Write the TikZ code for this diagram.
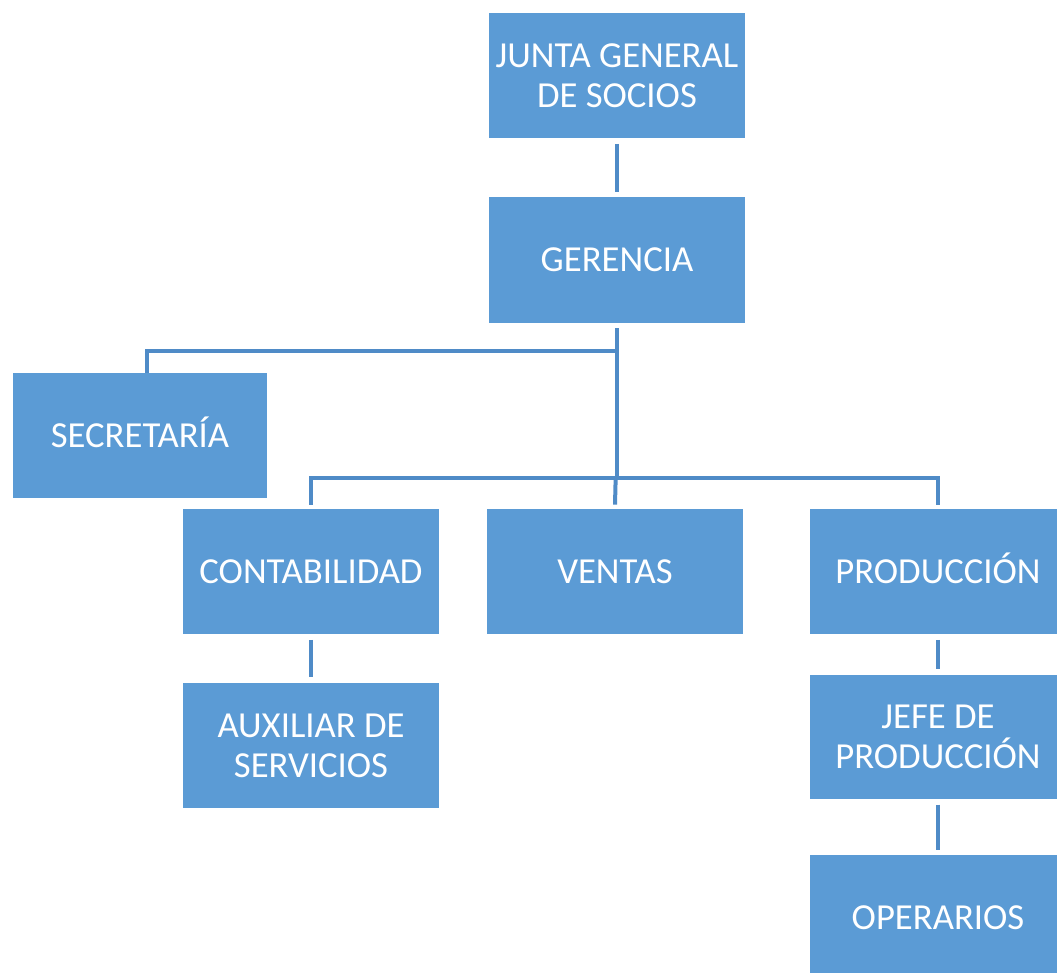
\documentclass[tikz,border=0pt]{standalone}
\usepackage{fontspec}
\setmainfont{Carlito}
\definecolor{boxblue}{HTML}{5B9BD5}
\definecolor{lineblue}{HTML}{4F8BC7}
\begin{document}
\begin{tikzpicture}[x=0.75pt,y=-0.75pt,
  orgbox/.style={rectangle, fill=boxblue, draw=none, minimum width=192pt, minimum height=94pt,
    inner sep=0pt, text=white, align=center, font=\fontsize{27.5pt}{30pt}\selectfont},
  oneline/.style={text height=17.7pt, text depth=0pt},
  conn/.style={draw=lineblue, line width=3pt}]
\useasboundingbox (0,0) rectangle (1057,973);
\clip (0,0) rectangle (1057,973);
\node[orgbox] (junta) at (617,75.5) {JUNTA GENERAL\\DE SOCIOS};
\node[orgbox, oneline] (ger) at (617,260) {GERENCIA};
\node[orgbox, oneline, minimum width=190.5pt] (sec) at (140,435.5) {SECRETARÍA};
\node[orgbox, oneline] (cont) at (311,571.5) {CONTABILIDAD};
\node[orgbox, oneline] (vent) at (615,571.5) {VENTAS};
\node[orgbox, oneline] (prod) at (938,571.5) {PRODUCCIÓN};
\node[orgbox] (aux) at (311,745.5) {AUXILIAR DE\\SERVICIOS};
\node[orgbox, minimum height=93pt] (jefe) at (938,737) {JEFE DE\\PRODUCCIÓN};
\node[orgbox, oneline] (oper) at (938,918) {OPERARIOS};
\coordinate (bus1) at (617,351);
\coordinate (bus2) at (617,478);
\draw[conn] ([yshift=-4pt]junta.south) -- ([yshift=4pt]ger.north);
\draw[conn] ([yshift=-4pt]ger.south) -- (bus2);
\draw[conn] (bus1) -| ([xshift=5pt]sec.north);
\draw[conn] ([yshift=3pt]cont.north) |- (bus2) -| ([yshift=3pt]prod.north);
\draw[conn] ([xshift=-1pt]bus2) -- ([yshift=3pt]vent.north);
\draw[conn] ([yshift=-4pt]cont.south) -- ([yshift=4pt]aux.north);
\draw[conn] ([yshift=-4pt]prod.south) -- ([yshift=4pt]jefe.north);
\draw[conn] ([yshift=-4pt]jefe.south) -- ([yshift=4pt]oper.north);
\end{tikzpicture}
\end{document}
